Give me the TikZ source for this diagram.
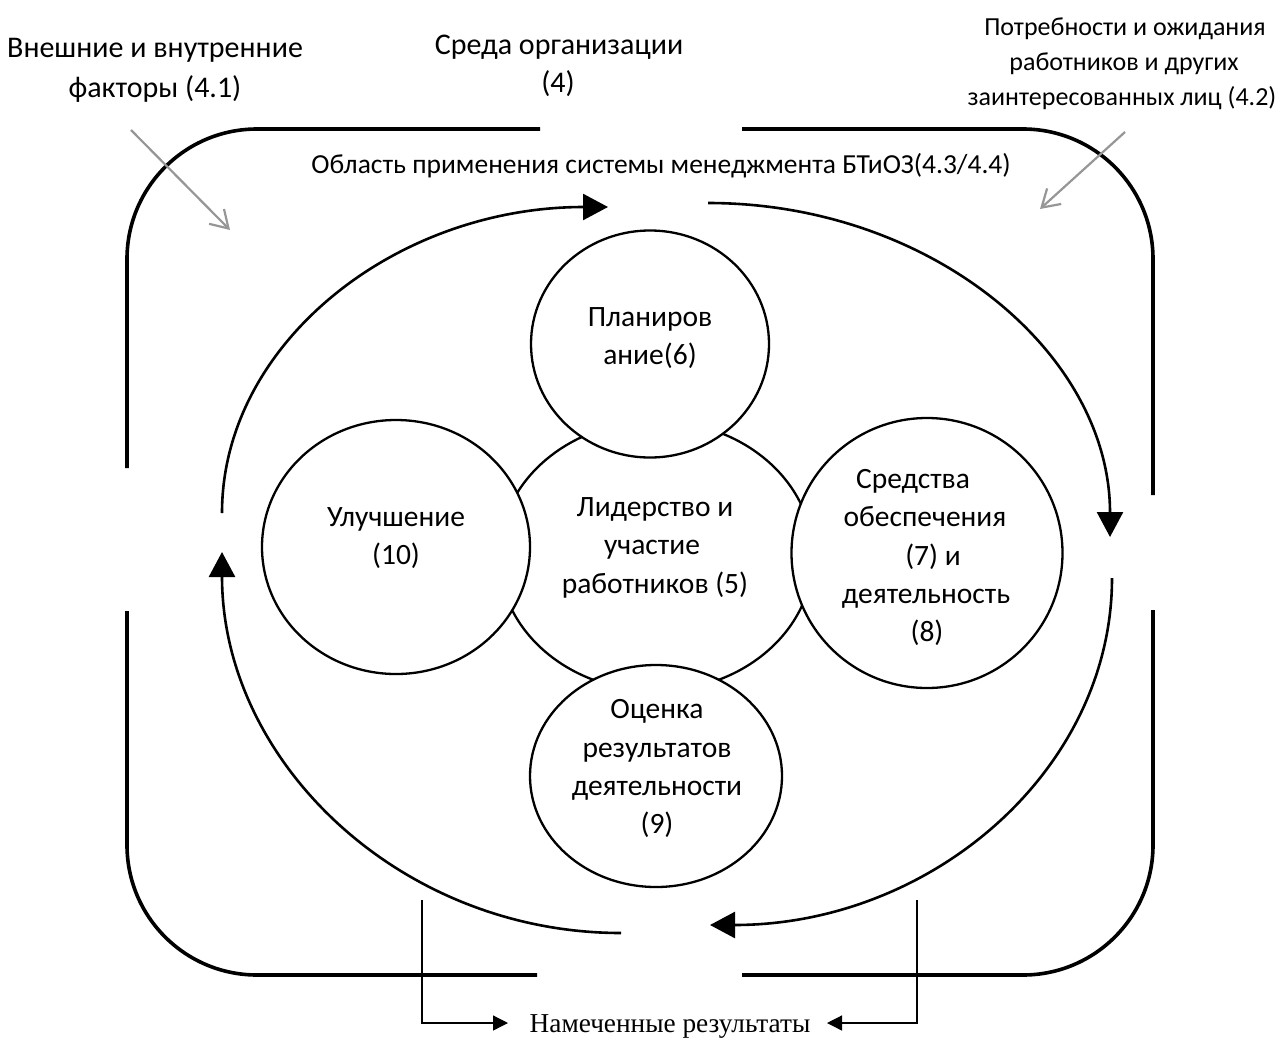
\documentclass[tikz,border=0pt]{standalone}
\usepackage{fontspec}
\setmainfont{Carlito}
\newfontfamily\serifru{Liberation Serif}
\usetikzlibrary{arrows.meta,shapes.geometric}
\definecolor{arrgray}{RGB}{150,150,150}
\begin{document}
\begin{tikzpicture}[x=1pt,y=-1pt,
  frame/.style={line width=3.6pt},
  flow/.style={line width=2.6pt,-{Triangle[length=25pt,width=26pt]}},
  circ/.style={ellipse,draw,line width=2.3pt,fill=white,inner sep=0pt},
  grayarr/.style={draw=arrgray,line width=2.2pt,-{Straight Barb[length=17pt,width=21pt]}},
  thinarr/.style={line width=1.3pt,-{Triangle[length=15pt,width=15pt]}},
  big/.style={font=\fontsize{29.5}{34}\selectfont,anchor=base,inner sep=0pt},
  top/.style={font=\fontsize{30}{36}\selectfont,anchor=base,inner sep=0pt},
  mid/.style={font=\fontsize{26}{32}\selectfont,anchor=base,inner sep=0pt},
  small/.style={font=\fontsize{27.5}{32}\selectfont,anchor=base,inner sep=0pt},
  serif/.style={font=\serifru\fontsize{27.3}{32}\selectfont,anchor=base,inner sep=0pt}]
\useasboundingbox (0,0) rectangle (1288,1039);

% outer frame
\draw[frame,rounded corners=130pt] (127,468) -- (127,129) -- (540,129);
\draw[frame,rounded corners=130pt] (742,129) -- (1153,129) -- (1153,495);
\draw[frame,rounded corners=130pt] (1153,610) -- (1153,975) -- (742,975);
\draw[frame,rounded corners=130pt] (537,975) -- (127,975) -- (127,611);

% cycle arcs
\coordinate (tlS) at (222,513);
\coordinate (trS) at (708,203);
\coordinate (brS) at (1112,578);
\coordinate (blS) at (621,933);
\draw[flow] (tlS) arc[start angle=180,end angle=270,x radius=386,y radius=306];
\draw[flow] (trS) arc[start angle=270,end angle=360,x radius=402,y radius=334];
\draw[flow] (brS) arc[start angle=0,end angle=90,x radius=402,y radius=347];
\draw[flow] (blS) arc[start angle=90,end angle=180,x radius=399,y radius=381];

% circles
\node[circ,minimum width=314pt,minimum height=270pt] (lead) at (656,556) {};
\node[circ,minimum width=238pt,minimum height=227pt] (plan) at (650,344) {};
\node[circ,minimum width=268pt,minimum height=254pt] (impr) at (396,547) {};
\node[circ,minimum width=271pt,minimum height=270pt] (supp) at (927,553) {};
\node[circ,minimum width=252pt,minimum height=222pt] (eval) at (656,776) {};

% circle texts
\node[big] (p1) at (650,326) {Планиров};
\node[big] (p2) at (650,364) {ание(6)};
\node[big] (i1) at (396,526) {Улучшение};
\node[big] (i2) at (396,564) {(10)};
\node[big] (l1) at (655,516) {Лидерство и};
\node[big] (l2) at (652,554) {участие};
\node[big] (l3) at (655,593) {работников (5)};
\node[big] (s1) at (913,488) {Средства};
\node[big] (s2) at (925,526) {обеспечения};
\node[big] (s3) at (933,565) {(7) и};
\node[big] (s4) at (926,603) {деятельность};
\node[big] (s5) at (927,641) {(8)};
\node[big] (e1) at (657,718) {Оценка};
\node[big] (e2) at (657,757) {результатов};
\node[big] (e3) at (657,795) {деятельности};
\node[big] (e4) at (657,833) {(9)};

% outer texts
\node[top] (f1) at (155,57) {Внешние и внутренние};
\node[top] (f2) at (155,97) {факторы (4.1)};
\node[top] (c1) at (559,54) {Среда организации};
\node[top] (c2) at (558,92) {(4)};
\node[mid] (n1) at (1125,35) {Потребности и ожидания};
\node[mid] (n2) at (1124,70) {работников и других};
\node[mid] (n3) at (1122,105) {заинтересованных лиц (4.2)};
\node[small] (scope) at (661,173) {Область применения системы менеджмента БТиОЗ(4.3/4.4)};

% gray influence arrows
\coordinate (gl1) at (131,130);
\coordinate (gl2) at (230,230);
\coordinate (gr1) at (1125,132);
\coordinate (gr2) at (1040,209);
\draw[grayarr] (gl1) -- (gl2);
\draw[grayarr] (gr1) -- (gr2);

% intended outcomes
\node[serif] (res) at (670,1032) {Намеченные результаты};
\coordinate (ol) at (422,900);
\coordinate (or) at (917,900);
\coordinate (ltip) at (508,1023);
\coordinate (rtip) at (827,1023);
\draw[thinarr] (ol) |- (ltip);
\draw[thinarr] (or) |- (rtip);
\end{tikzpicture}
\end{document}
